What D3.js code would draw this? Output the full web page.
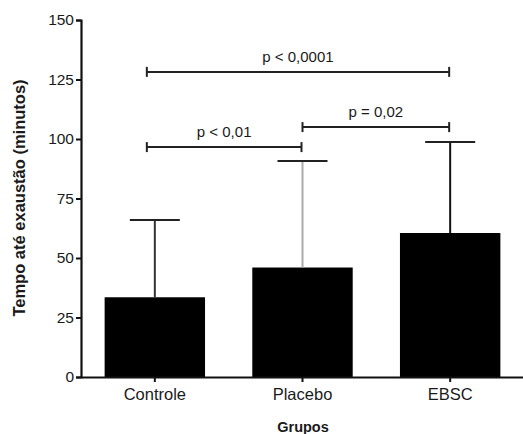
<!DOCTYPE html>
<html><head><meta charset="utf-8">
<script src="https://cdn.jsdelivr.net/npm/d3@7/dist/d3.min.js"></script>
<style>body{margin:0;background:#fff}svg{display:block}text{font-family:"Liberation Sans",Arial,sans-serif;fill:#1a1a1a}</style>
</head><body>
<script>
const categories = ["Controle", "Placebo", "EBSC"];
const means = [33.5, 46, 60.5];
const upperErr = [66, 90.8, 98.7];
const errColors = ["#333", "#aaa", "#111"];
const yTicks = [0, 25, 50, 75, 100, 125, 150];
const comparisons = [
  {from: "Controle", to: "EBSC", y: 128.2, label: "p < 0,0001"},
  {from: "Controle", to: "Placebo", y: 96.6, label: "p < 0,01"},
  {from: "Placebo", to: "EBSC", y: 105, label: "p = 0,02"}
];
const yLabel = "Tempo até exaustão (minutos)";
const xLabel = "Grupos";

const W = 523, H = 434;
const svg = d3.select("body").append("svg").attr("width", W).attr("height", H);
const x = d3.scaleBand().domain(categories).range([81, 524]).paddingInner(0.32).paddingOuter(0.16);
const y = d3.scaleLinear().domain([0, 150]).range([377, 20]);
const cx = c => x(c) + x.bandwidth() / 2;

// bars
svg.selectAll("rect.bar").data(categories).join("rect")
  .attr("x", d => x(d)).attr("width", x.bandwidth())
  .attr("y", (d, i) => y(means[i])).attr("height", (d, i) => y(0) - y(means[i]))
  .attr("fill", "#000");

// error bars
categories.forEach((c, i) => {
  svg.append("line").attr("x1", cx(c)).attr("x2", cx(c))
    .attr("y1", y(means[i])).attr("y2", y(upperErr[i]))
    .attr("stroke", errColors[i]).attr("stroke-width", 2);
  svg.append("line").attr("x1", cx(c) - 25).attr("x2", cx(c) + 25)
    .attr("y1", y(upperErr[i])).attr("y2", y(upperErr[i]))
    .attr("stroke", "#222").attr("stroke-width", 2);
});

// y axis
const ya = svg.append("g").attr("transform", "translate(81,0)")
  .call(d3.axisLeft(y).tickValues(yTicks).tickSize(5).tickPadding(2));
ya.select(".domain").attr("stroke", "#111").attr("stroke-width", 2.2);
ya.selectAll(".tick line").attr("stroke", "#111").attr("stroke-width", 2);
ya.selectAll(".tick text").attr("font-size", 15.5).attr("fill", "#222")
  .attr("font-family", "Liberation Sans, Arial, sans-serif");

// x axis
const xa = svg.append("g").attr("transform", "translate(0,377)")
  .call(d3.axisBottom(x).tickSize(5).tickPadding(6).tickSizeOuter(0));
xa.select(".domain").attr("stroke", "#111").attr("stroke-width", 2.2);
xa.selectAll(".tick line").attr("stroke", "#111").attr("stroke-width", 2);
xa.selectAll(".tick text").attr("font-size", 16.5).attr("fill", "#222")
  .attr("font-family", "Liberation Sans, Arial, sans-serif");

// comparisons
comparisons.forEach(cmp => {
  const x1 = cx(cmp.from) - (cmp.from === categories[0] ? 8 : 0);
  const x2 = cx(cmp.to) - 1, yy = y(cmp.y);
  const g = svg.append("g").attr("stroke", "#222").attr("stroke-width", 2);
  g.append("line").attr("x1", x1).attr("x2", x2).attr("y1", yy).attr("y2", yy);
  g.append("line").attr("x1", x1).attr("x2", x1).attr("y1", yy - 5).attr("y2", yy + 5);
  g.append("line").attr("x1", x2).attr("x2", x2).attr("y1", yy - 5).attr("y2", yy + 5);
  svg.append("text").attr("x", (x1 + x2) / 2).attr("y", yy - 10)
    .attr("text-anchor", "middle").attr("font-size", 15).text(cmp.label);
});

// axis labels
svg.append("text").attr("transform", "translate(25,198) rotate(-90)")
  .attr("text-anchor", "middle").attr("font-size", 16.5).attr("font-weight", "bold").text(yLabel);
svg.append("text").attr("x", 303).attr("y", 432)
  .attr("text-anchor", "middle").attr("font-size", 14.5).attr("font-weight", "bold").text(xLabel);
</script>
</body></html>
